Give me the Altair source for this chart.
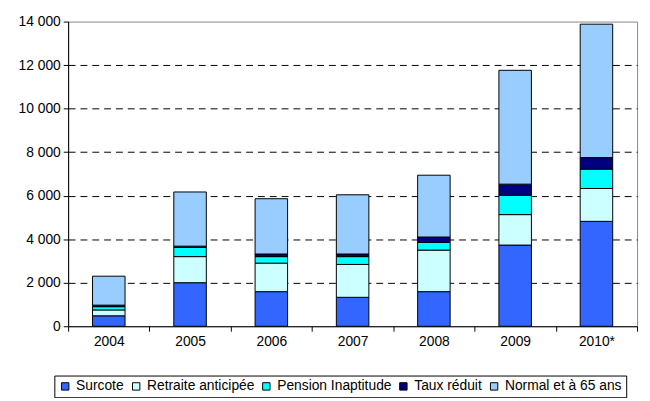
import altair as alt
import pandas as pd

years = ["2004", "2005", "2006", "2007", "2008", "2009", "2010*"]
categories = ["Surcote", "Retraite anticipée", "Pension Inaptitude", "Taux réduit", "Normal et à 65 ans"]
colors = ["#3366FF", "#CCFFFF", "#00FFFF", "#000080", "#99CCFF"]

surcote = [480, 2000, 1590, 1330, 1590, 3730, 4820]
retraite = [270, 1200, 1310, 1510, 1910, 1400, 1510]
pension = [150, 420, 300, 360, 350, 890, 890]
taux = [70, 60, 120, 120, 250, 510, 530]
normal = [1330, 2490, 2540, 2720, 2840, 5230, 6130]

series = [surcote, retraite, pension, taux, normal]
rows = []
for ci, (cat, vals) in enumerate(zip(categories, series)):
    for y, v in zip(years, vals):
        rows.append({"year": y, "cat": cat, "value": v, "ord": ci})
df = pd.DataFrame(rows)

font = "Liberation Sans"
fs = 14

chart = alt.Chart(df).mark_bar(stroke="black", strokeWidth=1, width={"band": 0.4}).encode(
    x=alt.X("year:N", sort=years, title=None,
            scale=alt.Scale(paddingInner=0, paddingOuter=0),
            axis=alt.Axis(labelAngle=0, tickBand="extent", domainColor="black", tickColor="black",
                          tickSize=5, labelPadding=4, labelFontSize=fs, labelFont=font,
                          labelColor="black")),
    y=alt.Y("value:Q", stack="zero", title=None,
            scale=alt.Scale(domain=[0, 14000], nice=False),
            axis=alt.Axis(values=list(range(0, 14001, 2000)),
                          labelExpr="replace(format(datum.value, ','), ',', ' ')",
                          grid=True, gridDash=[7, 5],
                          gridColor={"condition": {"test": "datum.value == 0 || datum.value == 14000", "value": "transparent"}, "value": "black"},
                          domainColor="black", tickColor="black", tickSize=5,
                          labelPadding=3, labelFontSize=fs, labelFont=font, labelColor="black")),
    color=alt.Color("cat:N", sort=categories,
                    scale=alt.Scale(domain=categories, range=colors),
                    legend=alt.Legend(title=None, orient="none", legendX=-14, legendY=359,
                                      direction="horizontal", columns=5,
                                      symbolType="square", symbolSize=56,
                                      symbolStrokeColor="black", symbolStrokeWidth=1,
                                      labelFontSize=fs, labelFont=font, labelColor="black",
                                      strokeColor="black", padding=4, columnPadding=5,
                                      labelOffset=4, cornerRadius=0)),
    order=alt.Order("ord:Q"),
).properties(
    width=577, height=309,
    autosize=alt.AutoSizeParams(type="none"),
    padding={"left": 61, "top": 11, "right": 5, "bottom": 70},
).configure_view(stroke="#888888", strokeWidth=1)

chart.save("out.html", embed_options={"renderer": "svg", "actions": False})
